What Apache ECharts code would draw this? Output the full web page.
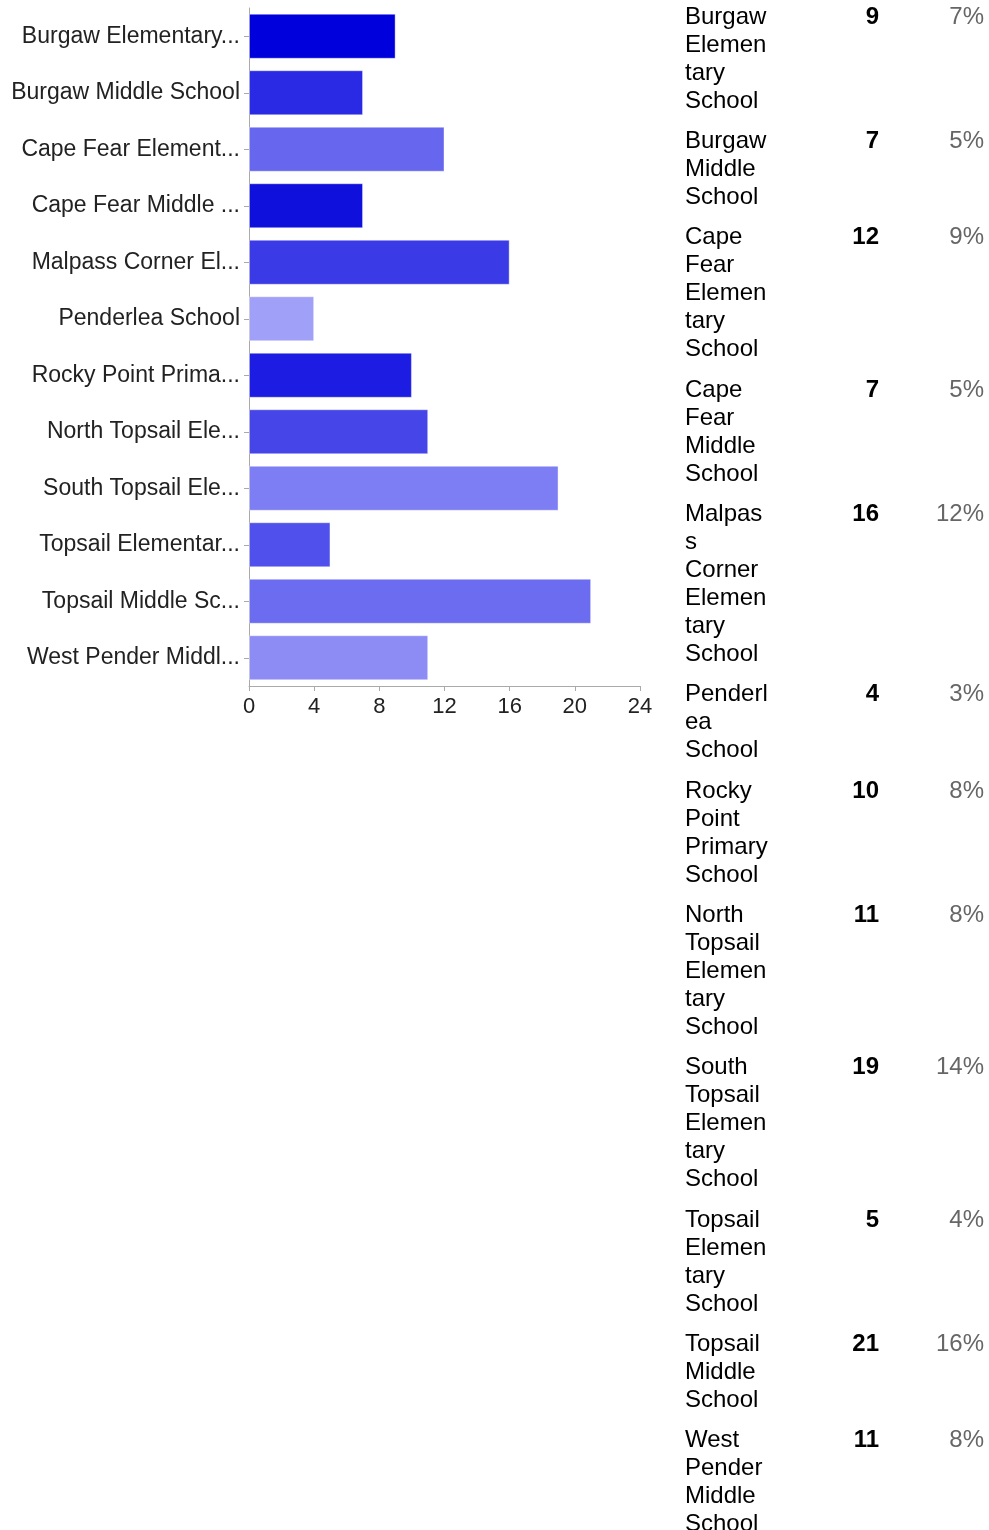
<!DOCTYPE html>
<html><head><meta charset="utf-8">
<script src="https://cdn.jsdelivr.net/npm/echarts@6/dist/echarts.min.js"></script>
<style>html,body{margin:0;padding:0;background:#fff}#c{width:989px;height:1530px}</style>
</head><body><div id="c"></div>
<script>
// ---- data ----
const schools = [
  'Burgaw Elementary School', 'Burgaw Middle School', 'Cape Fear Elementary School',
  'Cape Fear Middle School', 'Malpass Corner Elementary School', 'Penderlea School',
  'Rocky Point Primary School', 'North Topsail Elementary School', 'South Topsail Elementary School',
  'Topsail Elementary School', 'Topsail Middle School', 'West Pender Middle School'
];
const axisLabels = [
  'Burgaw Elementary...', 'Burgaw Middle School', 'Cape Fear Element...',
  'Cape Fear Middle ...', 'Malpass Corner El...', 'Penderlea School',
  'Rocky Point Prima...', 'North Topsail Ele...', 'South Topsail Ele...',
  'Topsail Elementar...', 'Topsail Middle Sc...', 'West Pender Middl...'
];
const counts = [9, 7, 12, 7, 16, 4, 10, 11, 19, 5, 21, 11];
const percents = ['7%', '5%', '9%', '5%', '12%', '3%', '8%', '8%', '14%', '4%', '16%', '8%'];
const barColors = ['#0000dd', '#2a2ae4', '#6666ee', '#1010dd', '#3a3ae6', '#a0a0f8',
                   '#1c1ce2', '#4646e8', '#7e7ef4', '#5050ec', '#6c6cf0', '#8c8cf4'];
const xMin = 0, xMax = 24, xStep = 4;

// ---- table layout ----
const tableFont = '24px "Liberation Sans", Arial, sans-serif';
const mctx = document.createElement('canvas').getContext('2d');
mctx.font = tableFont;
function wrapName(text, w) {
  const words = text.split(' ');
  const lines = [];
  let cur = '';
  for (const word of words) {
    const cand = cur ? cur + ' ' + word : word;
    if (mctx.measureText(cand).width <= w) { cur = cand; continue; }
    if (cur) { lines.push(cur); cur = ''; }
    let piece = '';
    for (const ch of word) {
      if (piece && mctx.measureText(piece + ch).width > w) { lines.push(piece); piece = ch; }
      else piece += ch;
    }
    cur = piece;
  }
  if (cur) lines.push(cur);
  return lines;
}
const lineH = 28, rowGap = 12.35, nameX = 685, nameW = 85, countX = 879, pctX = 984;
const graphics = [];
let rowTop = 3;
schools.forEach((s, i) => {
  const lines = wrapName(s, nameW);
  graphics.push({type: 'text', x: nameX, y: rowTop, style: {
    text: lines.join('\n'), font: tableFont, fill: '#000', lineHeight: lineH, verticalAlign: 'top'}});
  graphics.push({type: 'text', x: countX, y: rowTop, style: {
    text: String(counts[i]), font: 'bold ' + tableFont, fill: '#000', lineHeight: lineH,
    align: 'right', verticalAlign: 'top'}});
  graphics.push({type: 'text', x: pctX, y: rowTop, style: {
    text: percents[i], font: tableFont, fill: '#666', lineHeight: lineH,
    align: 'right', verticalAlign: 'top'}});
  rowTop += lines.length * lineH + rowGap;
});

const chart = echarts.init(document.getElementById('c'));
chart.setOption({
  animation: false,
  backgroundColor: '#fff',
  grid: {left: 249, right: 349, top: 8, bottom: 844, containLabel: false},
  xAxis: {
    type: 'value', min: xMin, max: xMax, interval: xStep,
    axisLine: {show: true, lineStyle: {color: '#aaa', width: 1}},
    axisTick: {show: true, length: 5, lineStyle: {color: '#aaa'}},
    splitLine: {show: false},
    axisLabel: {color: '#222', fontSize: 22, fontFamily: 'Liberation Sans', margin: 10}
  },
  yAxis: {
    type: 'category', inverse: true, data: schools,
    axisLine: {show: true, lineStyle: {color: '#aaa', width: 1}},
    axisTick: {show: true, length: 5, alignWithLabel: true, lineStyle: {color: '#aaa'}},
    axisLabel: {color: '#222', fontSize: 23, fontFamily: 'Liberation Sans', margin: 9,
      formatter: (v, idx) => axisLabels[idx]}
  },
  series: [{
    type: 'bar', barWidth: 45,
    data: counts.map((v, i) => ({value: v, itemStyle: {color: barColors[i]}})),
    itemStyle: {borderColor: 'rgba(255,255,255,0.4)', borderWidth: 1}
  }],
  graphic: graphics
});
</script>
</body></html>
